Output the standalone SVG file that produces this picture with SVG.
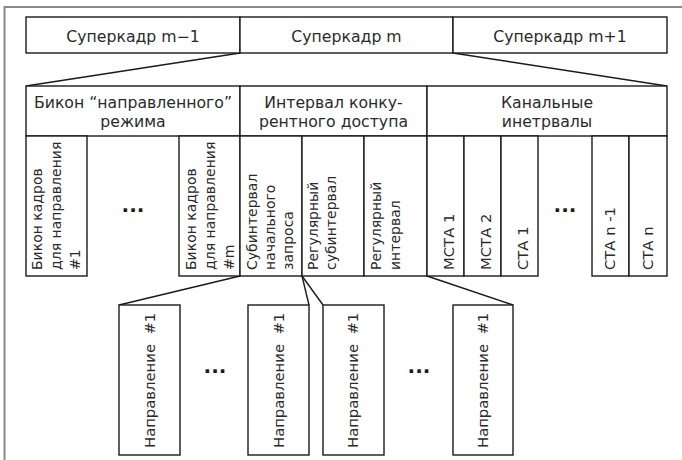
<svg xmlns="http://www.w3.org/2000/svg" width="682" height="460" viewBox="0 0 682 460">
<style>
.b{fill:#fff;stroke:#1a1a1a;stroke-width:1.4}
.t{font-family:"DejaVu Sans","Liberation Sans",sans-serif;font-size:14.8px;fill:#2a2a2a}
.h{font-size:15.7px}
.v{font-size:14px}
.c{text-anchor:middle}
.d{font-family:"DejaVu Sans","Liberation Sans",sans-serif;font-size:20px;font-weight:bold;fill:#1a1a1a;text-anchor:middle}
.l{stroke:#1a1a1a;stroke-width:1.4;fill:none}
.f{stroke:#8a8a8a;stroke-width:2;fill:none}
</style>
<rect width="682" height="460" fill="#fff"/>
<path class="f" d="M4.5,460 V7 H682"/>
<g id="connectors">
<line class="l" x1="240" y1="53" x2="26" y2="86"/>
<line class="l" x1="453" y1="53" x2="667" y2="86"/>
<line class="l" x1="240" y1="276" x2="119" y2="305"/>
<line class="l" x1="302" y1="276" x2="309" y2="305"/>
<line class="l" x1="302" y1="276" x2="323" y2="305"/>
<line class="l" x1="427" y1="276" x2="513" y2="305"/>
</g>
<g id="sf-m-1"><rect class="b" x="26" y="17" width="214" height="36"/><text class="t h c" x="133" y="42">Суперкадр m−1</text></g>
<g id="sf-m"><rect class="b" x="240" y="17" width="213" height="36"/><text class="t h c" x="346.5" y="42">Суперкадр m</text></g>
<g id="sf-m+1"><rect class="b" x="453" y="17" width="214" height="36"/><text class="t h c" x="560" y="42">Суперкадр m+1</text></g>
<g id="beacon"><rect class="b" x="26" y="86" width="214" height="50"/><text class="t h c" x="133" y="108">Бикон “направленного”</text><text class="t h c" x="133" y="127">режима</text></g>
<g id="contention"><rect class="b" x="240" y="86" width="187" height="50"/><text class="t h c" x="333.5" y="108">Интервал конку-</text><text class="t h c" x="333.5" y="127">рентного доступа</text></g>
<g id="channel"><rect class="b" x="427" y="86" width="240" height="50"/><text class="t h c" x="547" y="108">Канальные</text><text class="t h c" x="547" y="127">инетрвалы</text></g>
<g id="bk1"><rect class="b" x="26" y="136" width="61" height="140"/><text class="t v" transform="translate(0,270) rotate(-90)"><tspan x="0" y="42">Бикон кадров</tspan><tspan x="0" y="61">для направления</tspan><tspan x="0" y="80">#1</tspan></text></g>
<g id="dots1"><text class="d" x="133" y="212">...</text></g>
<g id="bkm"><rect class="b" x="179" y="136" width="61" height="140"/><text class="t v" transform="translate(0,270) rotate(-90)"><tspan x="0" y="196">Бикон кадров</tspan><tspan x="0" y="215">для направления</tspan><tspan x="0" y="234">#m</tspan></text></g>
<g id="sub-init"><rect class="b" x="240" y="136" width="62" height="140"/><text class="t v" transform="translate(0,270) rotate(-90)"><tspan x="0" y="257">Субинтервал</tspan><tspan x="0" y="275">начального</tspan><tspan x="0" y="293">запроса</tspan></text></g>
<g id="sub-reg"><rect class="b" x="302" y="136" width="62" height="140"/><text class="t v" transform="translate(0,270) rotate(-90)"><tspan x="0" y="318">Регулярный</tspan><tspan x="0" y="336">субинтервал</tspan></text></g>
<g id="int-reg"><rect class="b" x="364" y="136" width="63" height="140"/><text class="t v" transform="translate(0,270) rotate(-90)"><tspan x="0" y="381">Регулярный</tspan><tspan x="0" y="400">интервал</tspan></text></g>
<g id="mcta1"><rect class="b" x="427" y="136" width="37" height="140"/><text class="t" transform="translate(0,270) rotate(-90)" x="0" y="454">МСТА 1</text></g>
<g id="mcta2"><rect class="b" x="464" y="136" width="37" height="140"/><text class="t" transform="translate(0,270) rotate(-90)" x="0" y="491">МСТА 2</text></g>
<g id="cta1"><rect class="b" x="501" y="136" width="37" height="140"/><text class="t" transform="translate(0,270) rotate(-90)" x="0" y="528">СТА 1</text></g>
<g id="dots2"><text class="d" x="565" y="212">...</text></g>
<g id="ctan-1"><rect class="b" x="592" y="136" width="37" height="140"/><text class="t" transform="translate(0,270) rotate(-90)" x="0" y="615">СТА n -1</text></g>
<g id="ctan"><rect class="b" x="629" y="136" width="38" height="140"/><text class="t" transform="translate(0,270) rotate(-90)" x="0" y="653">СТА n</text></g>
<g id="dir1"><rect class="b" x="119" y="305" width="61" height="150"/><text class="t" transform="translate(0,448) rotate(-90)" x="0" y="155" xml:space="preserve">Направление  #1</text></g>
<g id="dots3"><text class="d" x="215" y="373">...</text></g>
<g id="dir2"><rect class="b" x="248" y="305" width="61" height="150"/><text class="t" transform="translate(0,448) rotate(-90)" x="0" y="284" xml:space="preserve">Направление  #1</text></g>
<g id="dir3"><rect class="b" x="323" y="305" width="61" height="150"/><text class="t" transform="translate(0,448) rotate(-90)" x="0" y="358" xml:space="preserve">Направление  #1</text></g>
<g id="dots4"><text class="d" x="419" y="373">...</text></g>
<g id="dir4"><rect class="b" x="453" y="305" width="60" height="150"/><text class="t" transform="translate(0,448) rotate(-90)" x="0" y="488" xml:space="preserve">Направление  #1</text></g>
</svg>
